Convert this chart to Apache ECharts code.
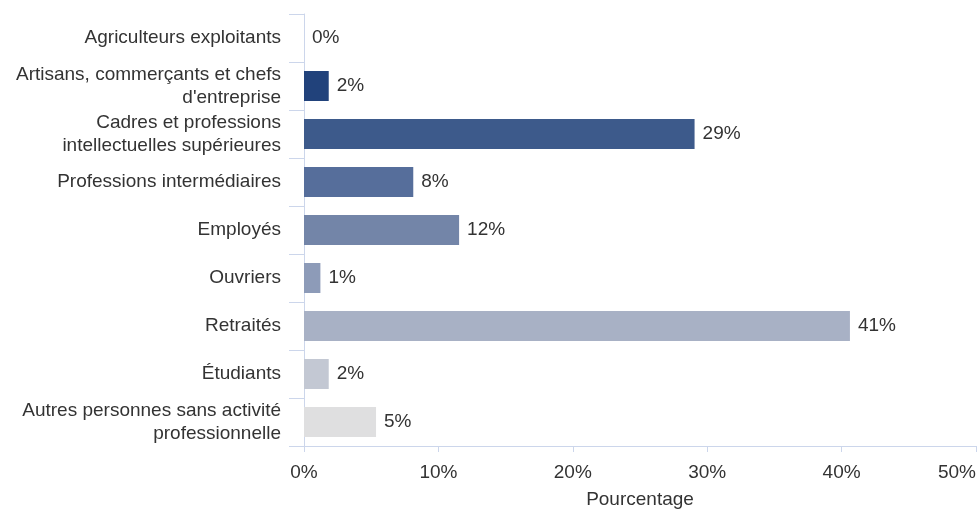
<!DOCTYPE html>
<html lang="fr">
<head>
<meta charset="utf-8">
<title>Répartition par catégorie socioprofessionnelle</title>
<script src="https://cdn.jsdelivr.net/npm/echarts@6/dist/echarts.min.js"></script>
<style>
  html, body { margin: 0; padding: 0; background: #ffffff; }
  #chart { width: 979px; height: 514px; }
</style>
</head>
<body>
<div id="chart"></div>
<script>
// Catégories socioprofessionnelles (de haut en bas)
const categories = [
  "Agriculteurs exploitants",
  "Artisans, commerçants et chefs\nd'entreprise",
  "Cadres et professions\nintellectuelles supérieures",
  "Professions intermédiaires",
  "Employés",
  "Ouvriers",
  "Retraités",
  "Étudiants",
  "Autres personnes sans activité\nprofessionnelle"
];

// Part de chaque catégorie, en pourcentage
const shares = [0, 1.84, 29.06, 8.13, 11.54, 1.22, 40.62, 1.84, 5.36];

// Graduations de l'axe des pourcentages
const xTicks = [0, 10, 20, 30, 40, 50];

// Dégradé du bleu foncé au gris clair, une teinte par barre
const palette = [
  "#1a3a73", "#21427b", "#3d5a8b", "#566e9b", "#7385a8",
  "#8d9bb8", "#a8b1c5", "#c3c8d3", "#dfdfe0"
];

const axisColor = "#ccd6eb";
const textColor = "#333333";
const fontFamily = "'Liberation Sans', Arial, sans-serif";
const fontSize = 19;

const chart = echarts.init(document.getElementById("chart"), null, { renderer: "canvas" });

chart.setOption({
  animation: false,
  textStyle: { fontFamily: fontFamily },
  grid: { left: 304, right: 2, top: 14, bottom: 67, containLabel: false },
  xAxis: {
    type: "value",
    min: xTicks[0],
    max: xTicks[xTicks.length - 1],
    interval: xTicks[1] - xTicks[0],
    name: "Pourcentage",
    nameLocation: "middle",
    nameGap: 44,
    nameTextStyle: { color: textColor, fontSize: fontSize, fontFamily: fontFamily },
    axisLine: { show: true, lineStyle: { color: axisColor, width: 1 } },
    axisTick: { show: true, length: 6, lineStyle: { color: axisColor } },
    axisLabel: {
      color: textColor, fontSize: fontSize, margin: 17, fontFamily: fontFamily,
      alignMaxLabel: "right",
      formatter: (v) => v + "%"
    },
    splitLine: { show: false }
  },
  yAxis: {
    type: "category",
    data: categories,
    inverse: true,
    axisLine: { show: true, lineStyle: { color: axisColor, width: 1 } },
    axisTick: { show: true, length: 15, alignWithLabel: false, lineStyle: { color: axisColor } },
    axisLabel: {
      color: textColor, fontSize: fontSize, margin: 23, lineHeight: 23,
      align: "right", fontFamily: fontFamily, padding: [4, 0, 0, 0]
    },
    splitLine: { show: false }
  },
  series: [{
    type: "bar",
    data: shares.map((v, i) => ({ value: v, itemStyle: { color: palette[i] } })),
    barWidth: 30,
    label: {
      show: true,
      position: "right",
      distance: 8,
      color: textColor,
      fontSize: fontSize,
      fontFamily: fontFamily,
      padding: [4, 0, 0, 0],
      formatter: (p) => Math.round(p.value) + "%"
    }
  }]
});
</script>
</body>
</html>
